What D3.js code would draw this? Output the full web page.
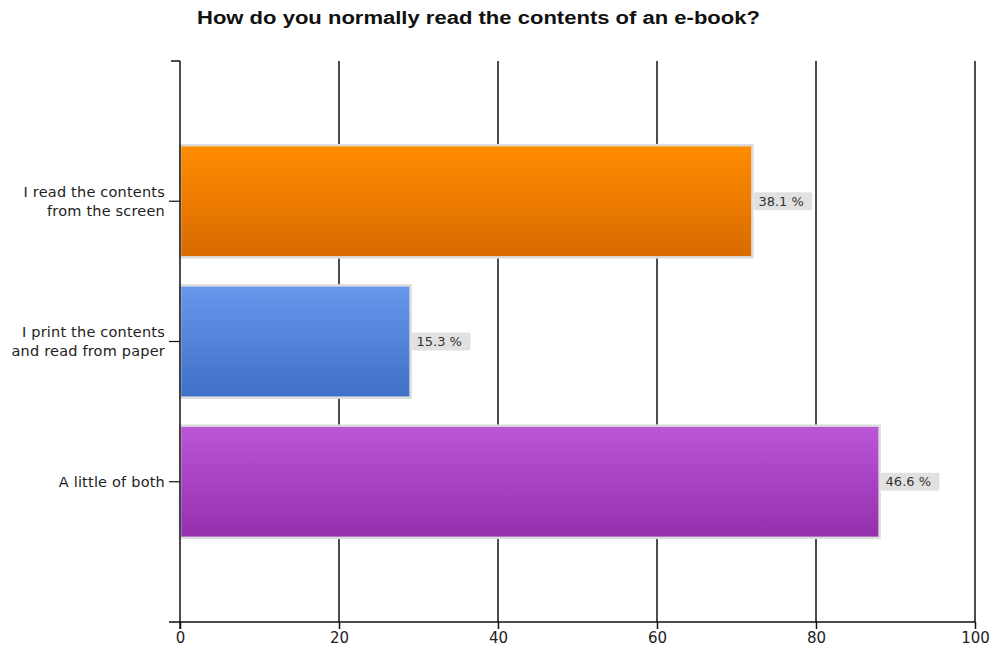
<!DOCTYPE html>
<html><head><meta charset="utf-8">
<script src="https://cdn.jsdelivr.net/npm/d3@7"></script>
<style>body{margin:0;background:#fff}svg{display:block}</style>
</head><body><svg id="c" width="993" height="650"></svg>
<script>
const title = "How do you normally read the contents of an e-book?";
const categories = [["I read the contents","from the screen"],["I print the contents","and read from paper"],["A little of both"]];
const values = [72, 29, 88];
const percentLabels = ["38.1 %", "15.3 %", "46.6 %"];
const xTicks = [0, 20, 40, 60, 80, 100];
const gradients = [["#ff8c00","#d96a00"],["#6798ec","#3f70c8"],["#bb56d6","#952fae"]];

const svg = d3.select("#c");
const M = {left:180, right:975, top:61, bottom:622};
const x = d3.scaleLinear().domain([0,100]).range([M.left, M.right]);
const y = d3.scaleBand().domain(d3.range(values.length)).range([M.top, M.bottom]).paddingInner(0.2).paddingOuter(0.6);

const defs = svg.append("defs");
gradients.forEach((g,i)=>{
  const lg = defs.append("linearGradient").attr("id","g"+i).attr("x1",0).attr("y1",0).attr("x2",0).attr("y2",1);
  lg.append("stop").attr("offset","0%").attr("stop-color",g[0]);
  lg.append("stop").attr("offset","100%").attr("stop-color",g[1]);
});

svg.append("text").attr("x",197).attr("y",24)
  .attr("font-family","Liberation Sans, Arial, sans-serif").attr("font-weight","bold").attr("font-size",18)
  .attr("textLength",563).attr("lengthAdjust","spacingAndGlyphs")
  .attr("fill","#111").text(title);

// grid lines
svg.append("g").selectAll("line").data(xTicks.slice(1)).join("line")
  .attr("x1",d=>x(d)).attr("x2",d=>x(d)).attr("y1",M.top).attr("y2",M.bottom)
  .attr("stroke","#111").attr("stroke-width",1.5);

// bars
const bars = svg.append("g");
bars.selectAll("rect").data(values).join("rect")
  .attr("x",x(0)).attr("y",(d,i)=>y(i)).attr("width",d=>x(d)-x(0)).attr("height",y.bandwidth())
  .attr("fill",(d,i)=>`url(#g${i})`).attr("stroke","#dcdcdc").attr("stroke-width",2.5);

// value labels
const lab = svg.append("g").attr("font-family","DejaVu Sans, sans-serif").attr("font-size",13);
values.forEach((v,i)=>{
  const cy = y(i)+y.bandwidth()/2;
  const t = lab.append("text").attr("x",x(v)+6).attr("y",cy+4.5).attr("fill","#333").text(percentLabels[i]);
  const w = t.node().getComputedTextLength();
  lab.insert("rect","text").attr("x",x(v)+1.5).attr("y",cy-9).attr("width",w+13).attr("height",18).attr("rx",2).attr("fill","#e1e1e1");
});

// x axis
const xa = svg.append("g").attr("transform",`translate(0,${M.bottom})`)
  .call(d3.axisBottom(x).tickValues(xTicks).tickSize(7).tickPadding(3).tickFormat(d3.format("d")));
xa.select(".domain").remove();
xa.selectAll(".tick line").attr("stroke","#111").attr("stroke-width",1.5);
xa.selectAll("text").attr("font-family","DejaVu Sans, sans-serif").attr("font-size",15).attr("fill","#222");
svg.append("line").attr("x1",169).attr("x2",x(100)).attr("y1",M.bottom).attr("y2",M.bottom).attr("stroke","#111").attr("stroke-width",1.5);

// y axis
svg.append("line").attr("x1",M.left).attr("x2",M.left).attr("y1",M.top).attr("y2",M.bottom+7).attr("stroke","#111").attr("stroke-width",1.5);
svg.append("line").attr("x1",171).attr("x2",M.left).attr("y1",M.top).attr("y2",M.top).attr("stroke","#111").attr("stroke-width",1.5);
const ya = svg.append("g");
categories.forEach((c,i)=>{
  const cy = y(i)+y.bandwidth()/2;
  ya.append("line").attr("x1",169).attr("x2",M.left).attr("y1",cy).attr("y2",cy).attr("stroke","#111").attr("stroke-width",1.2);
  const t = ya.append("text").attr("text-anchor","end").attr("font-family","DejaVu Sans, sans-serif").attr("font-size",14.5).attr("letter-spacing",0.2).attr("fill","#222");
  const off = (c.length-1)*9.5;
  c.forEach((line,j)=>t.append("tspan").attr("x",165).attr("y",cy-off+j*19+5).text(line));
});
</script></body></html>
